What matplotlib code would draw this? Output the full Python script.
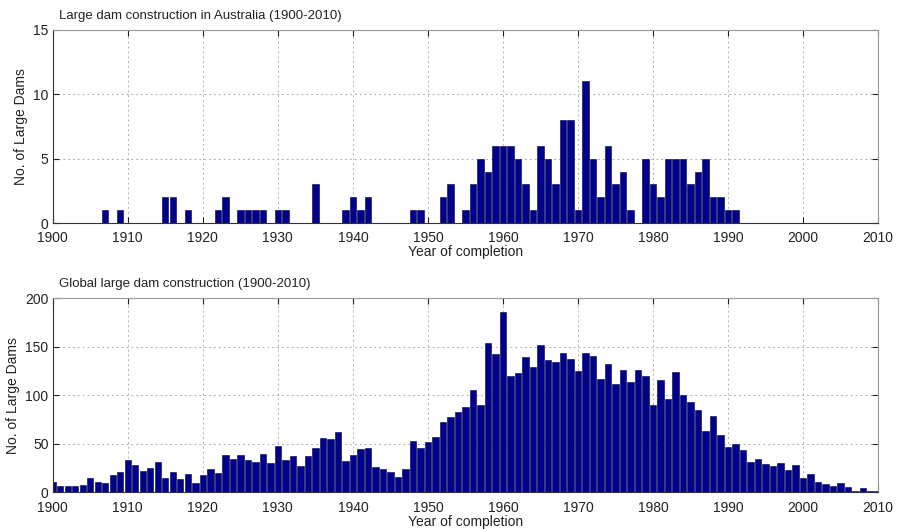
import matplotlib
matplotlib.use('Agg')
import matplotlib.pyplot as plt

plt.rcParams['font.family'] = ['Liberation Sans', 'DejaVu Sans']

# Australia: year -> number of large dams completed
aus_years = [1907, 1909, 1915, 1916, 1918, 1922, 1923, 1925, 1926, 1927, 1928,
             1930, 1931, 1935, 1939, 1940, 1941, 1942, 1948, 1949, 1952, 1953,
             1955, 1956, 1957, 1958, 1959, 1960, 1961, 1962, 1963, 1964, 1965,
             1966, 1967, 1968, 1969, 1970, 1971, 1972, 1973, 1974, 1975, 1976,
             1977, 1979, 1980, 1981, 1982, 1983, 1984, 1985, 1986, 1987, 1988,
             1989, 1990, 1991]
aus_counts = [1, 1, 2, 2, 1, 1, 2, 1, 1, 1, 1,
              1, 1, 3, 1, 2, 1, 2, 1, 1, 2, 3,
              1, 3, 5, 4, 6, 6, 6, 5, 3, 1, 6,
              5, 3, 8, 8, 1, 11, 5, 2, 6, 3, 4,
              1, 5, 3, 2, 5, 5, 5, 3, 4, 5, 2,
              2, 1, 1]

# Global: one value per year 1900..2010
glob_years = list(range(1900, 2011))
glob_counts = [11, 6, 6, 6, 8, 15, 11, 10, 18, 21,
               33, 28, 22, 25, 31, 15, 21, 14, 19, 10,
               18, 24, 20, 38, 34, 38, 33, 31, 39, 30,
               48, 33, 37, 27, 37, 46, 56, 55, 62, 32,
               38, 45, 46, 26, 24, 21, 16, 24, 53, 46,
               52, 57, 72, 78, 83, 88, 105, 90, 154, 143,
               186, 120, 123, 139, 129, 152, 136, 134, 144, 137,
               125, 144, 140, 117, 132, 112, 126, 114, 126, 120,
               90, 116, 96, 124, 100, 93, 85, 63, 79, 59,
               47, 50, 44, 31, 34, 29, 27, 30, 23, 28,
               15, 19, 11, 9, 6, 10, 5, 1, 4, 1, 1]

bar_color = '#00008a'
edge_color = '#00004a'

fig = plt.figure(figsize=(8.97, 5.29), dpi=100)
ax1 = fig.add_axes([0.0588, 0.5784, 0.9202, 0.3649])
ax2 = fig.add_axes([0.0588, 0.0694, 0.9202, 0.3667])


def style(ax, ymax, yticks, title):
    ax.set_xlim(1900, 2010)
    ax.set_ylim(0, ymax)
    ax.set_xticks(range(1900, 2011, 10))
    ax.set_yticks(yticks)
    ax.grid(True, linestyle=(0, (2, 3)), color='#b0b0b0', linewidth=0.7)
    ax.set_axisbelow(True)
    ax.tick_params(direction='in', top=True, right=True, length=4,
                   labelsize=10, colors='#222222')
    ax.tick_params(axis='x', pad=6)
    ax.tick_params(axis='y', pad=3)
    for side in ['left', 'bottom']:
        ax.spines[side].set_color('#333333')
    for side in ['top', 'right']:
        ax.spines[side].set_color('#999999')
    ax.set_xlabel('Year of completion', fontsize=10, labelpad=0, color='#222222')
    ax.set_ylabel('No. of Large Dams', fontsize=10, labelpad=4, color='#222222')
    ax.set_title(title, fontsize=9.5, loc='left', pad=8, x=0.008, color='#222222')


ax1.bar(aus_years, aus_counts, width=0.85, color=bar_color,
        edgecolor=edge_color, linewidth=0.4)
style(ax1, 15, [0, 5, 10, 15], 'Large dam construction in Australia (1900-2010)')

ax2.bar(glob_years, glob_counts, width=0.85, color=bar_color,
        edgecolor=edge_color, linewidth=0.4)
style(ax2, 200, [0, 50, 100, 150, 200], 'Global large dam construction (1900-2010)')

fig.savefig('out.png', dpi=100)
plt.close(fig)
